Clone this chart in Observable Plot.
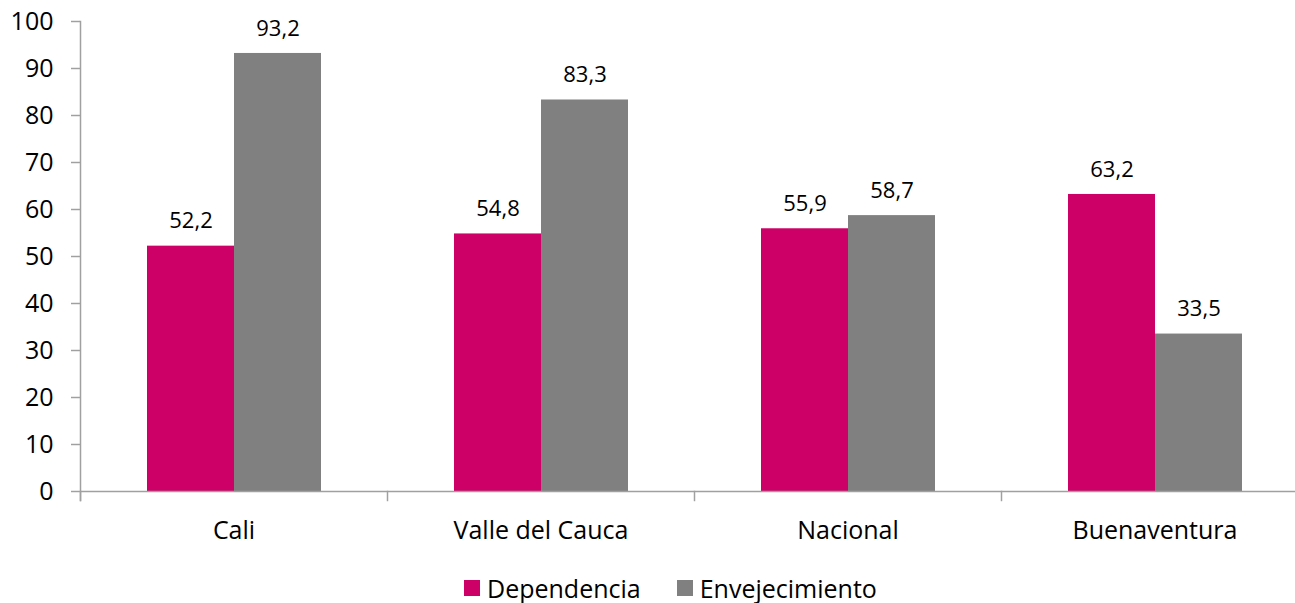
<!DOCTYPE html>
<html>
<head>
<meta charset="utf-8">
<script src="https://cdn.jsdelivr.net/npm/d3@7"></script>
<script src="https://cdn.jsdelivr.net/npm/@observablehq/plot@0.6"></script>
<style>
  html, body { margin: 0; padding: 0; background: #fff; overflow: hidden; }
  body { font-family: "Open Sans", sans-serif; width: 1295px; }
  #legend { display: flex; gap: 36px; height: 66px; align-items: center; padding-left: 464px; font-size: 25px; color: #000; }
  #legend .item { display: flex; align-items: center; gap: 7px; }
  #legend .sw { width: 16px; height: 16px; display: inline-block; }
</style>
</head>
<body>
<div id="chart"></div>
<div id="legend"></div>
<script>
const regions = ["Cali", "Valle del Cauca", "Nacional", "Buenaventura"];
const series = ["Dependencia", "Envejecimiento"];
const dependencia = [52.2, 54.8, 55.9, 63.2];
const envejecimiento = [93.2, 83.3, 58.7, 33.5];
const yTicks = [0, 10, 20, 30, 40, 50, 60, 70, 80, 90, 100];
const colors = ["#CC0066", "#808080"];

const data = regions.flatMap((r, i) => [
  {region: r, serie: series[0], value: dependencia[i]},
  {region: r, serie: series[1], value: envejecimiento[i]}
]);

const fmt = v => v.toFixed(1).replace(".", ",");
const axisColor = "#a0a0a0";
const marginTop = 21, marginBottom = 64, H = 555;
const plotH = H - marginTop - marginBottom;

const chart = Plot.plot({
  width: 1308,
  height: H,
  marginLeft: 80,
  marginRight: 0,
  marginTop,
  marginBottom,
  style: {fontFamily: "Open Sans, sans-serif", fontSize: "22px", color: "#000", maxWidth: "none", overflow: "visible"},
  fx: {domain: regions, padding: 0},
  x: {domain: series, paddingInner: 0, paddingOuter: 0.764, axis: null},
  y: {domain: [0, 100], ticks: yTicks},
  color: {domain: series, range: colors},
  marks: [
    Plot.barY(data, {fx: "region", x: "serie", y: "value", fill: "serie"}),
    Plot.text(data, {fx: "region", x: "serie", y: "value", text: d => fmt(d.value), dy: -25, fill: "#000", fontSize: 22}),
    Plot.ruleY([0], {stroke: axisColor, strokeWidth: 1.5}),
    Plot.frame({anchor: "left", stroke: axisColor, strokeWidth: 1.5, insetBottom: -9, facetAnchor: "left"}),
    Plot.frame({anchor: "left", stroke: axisColor, strokeWidth: 1.5, insetTop: plotH, insetBottom: -9}),
    Plot.axisY({ticks: yTicks, tickSize: 9, tickPadding: 18, stroke: axisColor, fill: "#000", fontSize: 25, label: null, strokeWidth: 1.5}),
    Plot.axisFx({anchor: "bottom", tickSize: 0, tickPadding: 30, label: null, fontSize: 25, fill: "#000"})
  ]
});
document.getElementById("chart").appendChild(chart);

const legend = document.getElementById("legend");
series.forEach((s, i) => {
  const item = document.createElement("span");
  item.className = "item";
  item.innerHTML = `<span class="sw" style="background:${colors[i]}"></span><span>${s}</span>`;
  legend.appendChild(item);
});
</script>
</body>
</html>
